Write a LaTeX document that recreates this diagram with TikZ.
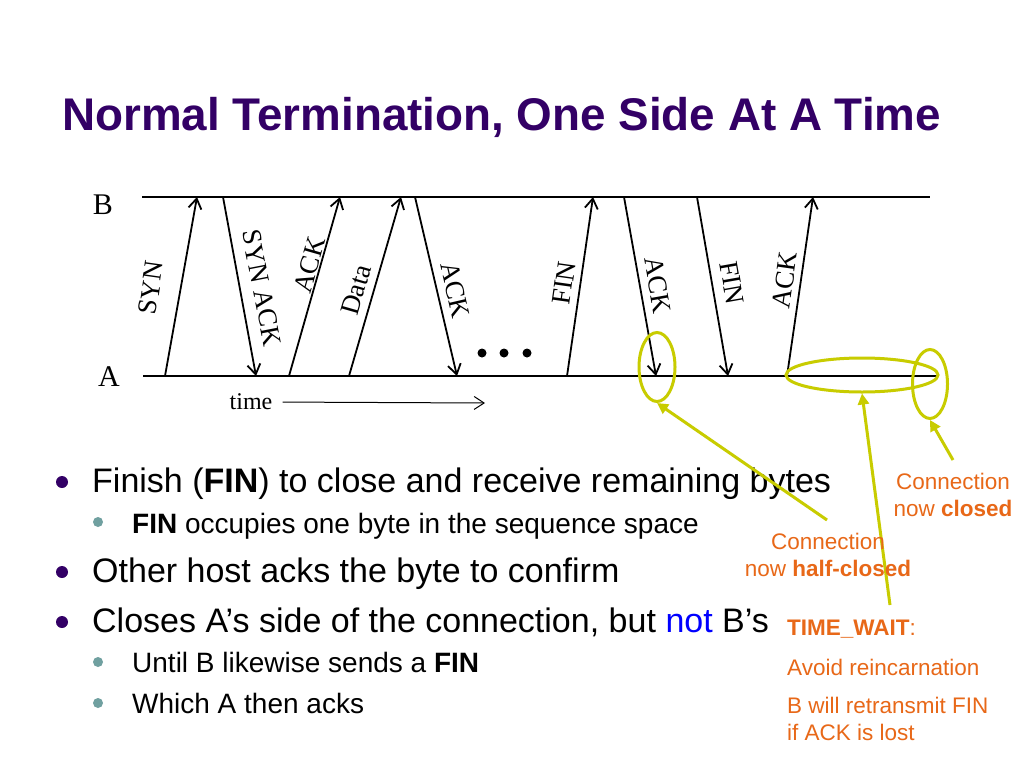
\documentclass[tikz,border=0pt]{standalone}
\usepackage{fontspec}
\setmainfont{Liberation Sans}
\newfontfamily\timesfont{Liberation Serif}
\usetikzlibrary{arrows.meta,shapes.geometric}
\definecolor{titlepurple}{RGB}{51,0,102}
\definecolor{marker}{RGB}{200,204,0}
\definecolor{note}{RGB}{232,104,24}
\definecolor{subdot}{RGB}{112,160,160}

\begin{document}
\begin{tikzpicture}[x=1pt,y=-1pt,
  >={Straight Barb[length=10pt,width=13pt]},
  msg/.style={->,line width=1.8pt},
  lbl/.style={font=\timesfont\fontsize{27}{27}\selectfont,inner sep=0pt},
  host/.style={font=\timesfont\fontsize{30}{30}\selectfont,inner sep=0pt},
  ring/.style={draw=marker,line width=3pt,ellipse,inner sep=0pt},
  pointer/.style={draw=marker,line width=3pt,-{Triangle[length=11pt,width=11pt]}},
  notetext/.style={text=note,font=\fontsize{22.5}{27}\selectfont,inner sep=0pt},
  mainitem/.style={anchor=base west,font=\fontsize{34}{40}\selectfont,inner sep=0pt},
  subitem/.style={anchor=base west,font=\fontsize{28}{34}\selectfont,inner sep=0pt}]
\useasboundingbox[fill=white] (0,0) rectangle (1024,768);

\node[anchor=base west,text=titlepurple,font=\bfseries\fontsize{45.8}{54}\selectfont,inner sep=0pt] (title) at (62,130) {Normal Termination, One Side At A Time};

\node[host] (B) at (103,205) {B};
\node[host] (A) at (109,377) {A};
\coordinate (bline0) at (142,197);
\coordinate (bline1) at (930,197);
\coordinate (aline0) at (143,376);
\coordinate (aline1) at (938,376);
\draw[line width=1.2pt] (bline0) -- (bline1);
\draw[line width=1.2pt] (aline0) -- (aline1);

\foreach \n/\xa/\xb in {syn/165/197,ackone/289/340,data/349/401,finone/567/593,ackfive/787/813}{
  \coordinate (\n-a) at (\xa,376);
  \coordinate (\n-b) at (\xb,197);
  \draw[msg] (\n-a) -- (\n-b);
}
\foreach \n/\xb/\xa in {synack/223/256,acktwo/415/457,ackthree/624/656,fintwo/697/728}{
  \coordinate (\n-b) at (\xb,197);
  \coordinate (\n-a) at (\xa,376);
  \draw[msg] (\n-b) -- (\n-a);
}

\node[lbl,rotate=82] (synlbl) at (151,288) {SYN};
\node[lbl,rotate=-79] (synacklbl) at (262,288) {SYN ACK};
\node[lbl,rotate=74] (ackonelbl) at (310,265) {ACK};
\node[lbl,rotate=74] (datalbl) at (356,290) {Data};
\node[lbl,rotate=-77] (acktwolbl) at (455,290) {ACK};
\node[lbl,rotate=82] (finonelbl) at (564,283) {FIN};
\node[lbl,rotate=-80] (ackthreelbl) at (658,285) {ACK};
\node[lbl,rotate=-80] (fintwolbl) at (732,283) {FIN};
\node[lbl,rotate=82] (ackfivelbl) at (785,280) {ACK};

\foreach \x in {482,504,527}
  \fill (\x,353) circle [radius=4.5];

\node[font=\timesfont\fontsize{24}{24}\selectfont,inner sep=0pt] (time) at (251,402) {time};
\coordinate (timeend) at (485,403);
\draw[->,line width=1pt,shorten <=10pt] (time.east) -- (timeend);

\node[ring,minimum width=36pt,minimum height=69pt] (halfring) at (657,367) {};
\node[ring,minimum width=152pt,minimum height=34pt] (waitring) at (862,375) {};
\node[ring,minimum width=35pt,minimum height=69pt] (closering) at (930,384) {};

\fill[titlepurple] (62,482) circle [radius=6];
\node[mainitem] (finish) at (92,492) {Finish (\textbf{FIN}) to close and receive remaining bytes};
\fill[subdot] (98,522) circle [radius=5];
\node[subitem] (occupies) at (132,533) {\textbf{FIN} occupies one byte in the sequence space};
\fill[titlepurple] (62,572) circle [radius=6];
\node[mainitem] (other) at (92,582) {Other host acks the byte to confirm};
\fill[titlepurple] (62,622) circle [radius=6];
\node[mainitem] (closes) at (92,632) {Closes A’s side of the connection, but \textcolor{blue}{not} B’s};
\fill[subdot] (98,662) circle [radius=5];
\node[subitem] (until) at (132,672) {Until B likewise sends a \textbf{FIN}};
\fill[subdot] (98,703) circle [radius=5];
\node[subitem] (which) at (132,713) {Which A then acks};

\coordinate (halftail) at (827,520);
\coordinate (waittail) at (890,605);
\coordinate (closetail) at (953,460);
\draw[pointer] (halftail) -- (halfring.south);
\draw[pointer] (waittail) -- (waitring.south);
\draw[pointer] (closetail) -- (closering.south);

\node[notetext,align=center] (closednote) at (953,495) {Connection\\now \textbf{closed}};
\node[notetext,align=center] (halfnote) at (828,555) {Connection\\now \textbf{half-closed}};
\node[notetext,anchor=base west] (waitnote) at (787,635) {\textbf{TIME\_WAIT}:};
\node[notetext,anchor=base west] (avoidnote) at (787,675) {Avoid reincarnation};
\node[notetext,anchor=north west,align=left] (finnote) at (787,697) {B will retransmit FIN\\if ACK is lost};
\end{tikzpicture}
\end{document}
